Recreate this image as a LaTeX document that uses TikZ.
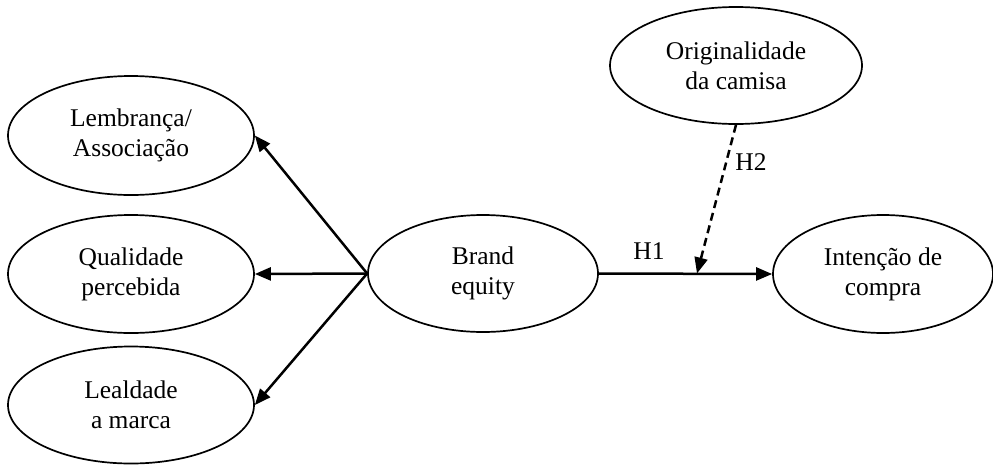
\documentclass[tikz,border=0pt]{standalone}
\usepackage{fontspec}
\setmainfont{Liberation Serif}
\usetikzlibrary{arrows.meta,shapes.geometric}
\begin{document}
\begin{tikzpicture}[x=1pt,y=-1pt,
  construct/.style={draw,ellipse,line width=1.7pt,inner sep=0pt,align=center,
    font=\fontsize{25.5}{30}\selectfont},
  lbl/.style={inner sep=0pt,font=\fontsize{25.5}{30}\selectfont},
  arr/.style={line width=2.5pt,-{Triangle[length=16pt,width=13pt]}},
  darr/.style={arr,dash pattern=on 8pt off 5pt}]
\useasboundingbox (0,0) rectangle (993,464);
\node[construct,minimum width=246pt,minimum height=119pt] (lem) at (131,135.5) {Lembrança/\\Associação};
\node[construct,minimum width=246pt,minimum height=118pt] (qual) at (131,274) {Qualidade\\percebida};
\node[construct,minimum width=246pt,minimum height=117pt] (leal) at (131,405) {Lealdade\\a marca};
\node[construct,minimum width=230pt,minimum height=117pt] (brand) at (483,273.5) {Brand\\equity};
\node[construct,minimum width=252pt,minimum height=117pt] (orig) at (736,65.5) {Originalidade\\da camisa};
\node[construct,minimum width=220pt,minimum height=118pt] (int) at (883,274) {Intenção de\\compra};
\coordinate (m) at (697,273.5);
\draw[arr] (brand.west) -- (lem.east);
\draw[arr] (brand.west) -- (qual.east);
\draw[arr] (brand.west) -- (leal.east);
\draw[arr] (brand.east) -- (int.west);
\draw[darr] (orig.south) -- (m);
\node[lbl] (h1) at (649,251) {H1};
\node[lbl] (h2) at (751,162) {H2};
\end{tikzpicture}
\end{document}
